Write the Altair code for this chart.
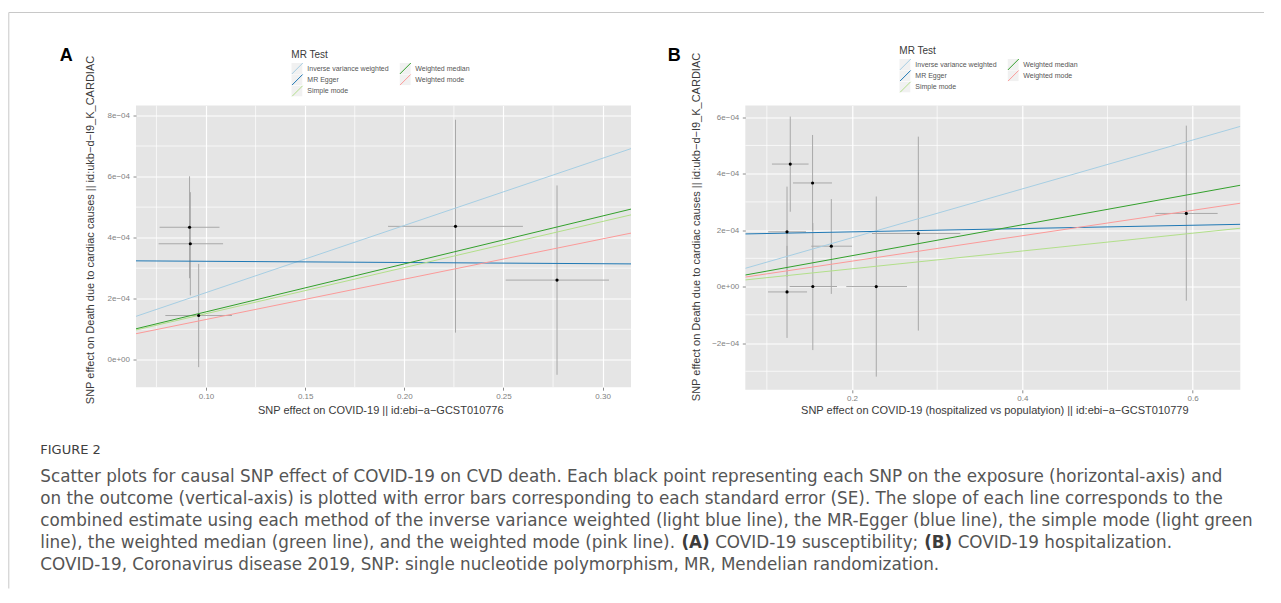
import altair as alt
import pandas as pd

# ---------------- data ----------------
METHODS = ["Inverse variance weighted", "MR Egger", "Simple mode", "Weighted median", "Weighted mode"]
METHOD_COLORS = ["#A6CEE3", "#1F78B4", "#B2DF8A", "#33A02C", "#FB9A99"]

# Panel A (COVID-19 susceptibility)
a_x = [0.0917, 0.0921, 0.0963, 0.2258, 0.2770]
a_y = [4.34e-4, 3.80e-4, 1.45e-4, 4.37e-4, 2.61e-4]
a_x_lo = [0.0766, 0.0761, 0.0795, 0.1918, 0.2511]
a_x_hi = [0.1068, 0.1086, 0.1131, 0.2598, 0.3032]
a_y_lo = [2.67e-4, 2.11e-4, -0.24e-4, 0.89e-4, -0.49e-4]
a_y_hi = [6.01e-4, 5.49e-4, 3.14e-4, 7.86e-4, 5.71e-4]
a_intercept = [0.0, 3.266e-4, 0.0, 0.0, 0.0]
a_slope = [2.20e-3, -4.0e-5, 1.51e-3, 1.57e-3, 1.32e-3]
a_xdom = [0.0647, 0.3143]
a_ydom = [-0.897e-4, 8.327e-4]
a_xticks = [0.10, 0.15, 0.20, 0.25, 0.30]
a_xtick_labels = ["0.10", "0.15", "0.20", "0.25", "0.30"]
a_xminor = [0.075, 0.125, 0.175, 0.225, 0.275]
a_yticks = [0.0, 2e-4, 4e-4, 6e-4, 8e-4]
a_ytick_labels = ["0e+00", "2e\u221204", "4e\u221204", "6e\u221204", "8e\u221204"]
a_yminor = [1e-4, 3e-4, 5e-4, 7e-4]

# Panel B (COVID-19 hospitalization)
b_x = [0.1275, 0.1537, 0.1237, 0.1757, 0.1237, 0.1540, 0.2285, 0.2779, 0.5926]
b_y = [4.34e-4, 3.67e-4, 1.94e-4, 1.43e-4, -0.19e-4, 0.002e-4, 0.0, 1.88e-4, 2.59e-4]
b_x_lo = [0.1060, 0.1307, 0.1015, 0.1522, 0.1014, 0.1267, 0.1933, 0.2235, 0.5562]
b_x_hi = [0.1490, 0.1765, 0.1460, 0.2000, 0.1472, 0.1824, 0.2646, 0.3272, 0.6294]
b_y_lo = [2.65e-4, 1.97e-4, 0.34e-4, -0.26e-4, -1.82e-4, -2.25e-4, -3.19e-4, -1.56e-4, -0.50e-4]
b_y_hi = [6.02e-4, 5.37e-4, 3.54e-4, 3.10e-4, 1.44e-4, 2.25e-4, 3.19e-4, 5.31e-4, 5.70e-4]
b_intercept = [0.0, 1.821e-4, 0.0, 0.0, 0.0]
b_slope = [8.65e-4, 5.85e-5, 3.15e-4, 5.47e-4, 4.50e-4]
b_xdom = [0.0747, 0.656]
b_ydom = [-3.657e-4, 6.414e-4]
b_xticks = [0.2, 0.4, 0.6]
b_xtick_labels = ["0.2", "0.4", "0.6"]
b_xminor = [0.1, 0.3, 0.5]
b_yticks = [-2e-4, 0.0, 2e-4, 4e-4, 6e-4]
b_ytick_labels = ["\u22122e\u221204", "0e+00", "2e\u221204", "4e\u221204", "6e\u221204"]
b_yminor = [-3e-4, -1e-4, 1e-4, 3e-4, 5e-4]

Y_TITLE = "SNP effect on Death due to cardiac causes || id:ukb\u2212d\u2212I9_K_CARDIAC"
A_X_TITLE = "SNP effect on COVID-19 || id:ebi\u2212a\u2212GCST010776"
B_X_TITLE = "SNP effect on COVID-19 (hospitalized vs populatyion) || id:ebi\u2212a\u2212GCST010779"

CAPTION_HEAD = "FIGURE 2"
CAPTION_LINES = [
    "Scatter plots for causal SNP effect of COVID-19 on CVD death. Each black point representing each SNP on the exposure (horizontal-axis) and",
    "on the outcome (vertical-axis) is plotted with error bars corresponding to each standard error (SE). The slope of each line corresponds to the",
    "combined estimate using each method of the inverse variance weighted (light blue line), the MR-Egger (blue line), the simple mode (light green",
    None,
    "COVID-19, Coronavirus disease 2019, SNP: single nucleotide polymorphism, MR, Mendelian randomization.",
]
# line 4 with bold panel letters: (text, bold, start offset in em)
CAPTION_LINE4 = [
    ("line), the weighted median (green line), and the weighted mode (pink line).", False, 0.0),
    ("(A)", True, 38.164),
    ("COVID-19 susceptibility;", False, 40.17),
    ("(B)", True, 52.609),
    ("COVID-19 hospitalization.", False, 54.603),
]

FONT = "Liberation Sans"
CAP_FONT = "DejaVu Sans"
CAP_SIZE = 16.8
CAP_LH = 22.0


def label_expr(vals, labels):
    parts = [f"abs(datum.value - ({v!r})) < 1e-12 ? '{l}'" for v, l in zip(vals, labels)]
    return " : ".join(parts) + " : ''"


def panel(x, y, xlo, xhi, ylo, yhi, icpt, slope, xdom, ydom, xticks, xlabels, xminor,
          yticks, ylabels, yminor, xtitle, w, h, xtitle_x, xtitle_y, ytitle_x, ytitle_y,
          leg_x, leg_y, extra):
    xaxis = alt.Axis(values=xticks, labelExpr=label_expr(xticks, xlabels), title=xtitle,
                     grid=True, gridColor="white", gridWidth=1.2, domain=False,
                     tickColor="#8c8c8c", tickSize=3, tickWidth=1,
                     labelColor="#7f7f7f", labelFont=FONT, labelFontSize=8, labelPadding=2,
                     titleFont=FONT, titleFontSize=11, titleFontWeight="normal", titleColor="#3a3a3a",
                     titleX=xtitle_x, titleY=xtitle_y, titleBaseline="middle", titleAlign="center")
    yaxis = alt.Axis(values=yticks, labelExpr=label_expr(yticks, ylabels), title=Y_TITLE,
                     grid=True, gridColor="white", gridWidth=1.2, domain=False,
                     tickColor="#8c8c8c", tickSize=3, tickWidth=1,
                     labelColor="#7f7f7f", labelFont=FONT, labelFontSize=8, labelPadding=3.5,
                     titleFont=FONT, titleFontSize=11, titleFontWeight="normal", titleColor="#3a3a3a",
                     titleX=ytitle_x, titleY=ytitle_y, titleBaseline="middle", titleAlign="center",
                     titleAngle=270)
    xs = alt.Scale(domain=xdom, nice=False, zero=False)
    ys = alt.Scale(domain=ydom, nice=False, zero=False)

    def X(f):
        return alt.X(f, type="quantitative", scale=xs, axis=xaxis)

    def Y(f):
        return alt.Y(f, type="quantitative", scale=ys, axis=yaxis)

    pts = pd.DataFrame({"x": x, "y": y, "xlo": xlo, "xhi": xhi, "ylo": ylo, "yhi": yhi})
    rows = []
    for m, a, b in zip(METHODS, icpt, slope):
        for xv in xdom:
            rows.append({"method": m, "x": xv, "y": a + b * xv})
    lines = pd.DataFrame(rows)

    minor_x = alt.Chart(pd.DataFrame({"x": xminor})).mark_rule(color="white", strokeWidth=0.7).encode(x=X("x"))
    minor_y = alt.Chart(pd.DataFrame({"y": yminor})).mark_rule(color="white", strokeWidth=0.7).encode(y=Y("y"))
    vbars = alt.Chart(pts).mark_rule(color="#a8a8a8", strokeWidth=1).encode(x=X("x"), y=Y("ylo"), y2="yhi")
    hbars = alt.Chart(pts).mark_rule(color="#a8a8a8", strokeWidth=1).encode(y=Y("y"), x=X("xlo"), x2="xhi")

    legend_common = dict(orient="none", legendX=leg_x, legendY=leg_y, columns=2, title="MR Test",
                         titleFont=FONT, titleFontSize=10, titleFontWeight="normal",
                         titlePadding=3, labelFont=FONT, labelFontSize=7,
                         symbolSize=121, clipHeight=11, rowPadding=0.3, labelOffset=4, padding=0)
    line_layer = alt.Chart(lines).mark_line(strokeWidth=1, clip=True).encode(
        x=X("x"), y=Y("y"),
        stroke=alt.Stroke("method:N", scale=alt.Scale(domain=METHODS, range=METHOD_COLORS),
                          legend=alt.Legend(symbolType="M-1,1L1,-1", symbolStrokeWidth=1,
                                            titleColor="#3a3a3a", labelColor="#555555",
                                            columnPadding=10, zindex=2, **legend_common)))
    key_dom = [m + " " for m in METHODS]
    keys = pd.DataFrame({"k": key_dom, "x": [xdom[0] - 10] * 5, "y": [ydom[0]] * 5})
    key_layer = alt.Chart(keys).mark_square(clip=True, size=4).encode(
        x=X("x"), y=Y("y"),
        color=alt.Color("k:N", scale=alt.Scale(domain=key_dom, range=["#ebebeb"] * 5),
                        legend=alt.Legend(symbolType="square", symbolStrokeWidth=0, labelExpr="''",
                                          titleColor="transparent", columnPadding=93.3,
                                          zindex=1, **legend_common)))
    points = alt.Chart(pts).mark_circle(color="black", size=10, opacity=1).encode(x=X("x"), y=Y("y"))

    layers = [minor_x, minor_y, vbars, hbars, line_layer, points, key_layer] + extra
    return alt.layer(*layers).properties(width=w, height=h)


def text_at(t, x, y, **kw):
    return alt.Chart(pd.DataFrame({"t": [t]})).mark_text(**kw).encode(
        text="t:N", x=alt.value(x), y=alt.value(y))


one = pd.DataFrame({"t": ["A"]})
A_X0, A_Y0 = 135.7, 105.0   # page position of panel A plot origin
cap_left = 40 - A_X0
a_extra = [
    text_at("A", -69.7, -50, font=FONT, fontSize=18, fontWeight="bold", color="black",
            align="center", baseline="middle"),
    alt.Chart(one).mark_rule(color="#c8c8c8", strokeWidth=1).encode(
        x=alt.value(-127.2), x2=alt.value(1128), y=alt.value(-93)),
    alt.Chart(one).mark_rule(color="#c8c8c8", strokeWidth=1).encode(
        x=alt.value(-127.2), y=alt.value(-93), y2=alt.value(483)),
    text_at(CAPTION_HEAD, cap_left, 449 - A_Y0, font=CAP_FONT, fontSize=13, color="#404040",
            align="left", baseline="middle"),
]
for i, line in enumerate(CAPTION_LINES):
    yc = 476 + i * CAP_LH - A_Y0
    if line is not None:
        a_extra.append(text_at(line, cap_left, yc, font=CAP_FONT, fontSize=CAP_SIZE, color="#555555",
                               align="left", baseline="middle"))
    else:
        for seg, bold, off in CAPTION_LINE4:
            a_extra.append(text_at(seg, cap_left + off * CAP_SIZE, yc, font=CAP_FONT, fontSize=CAP_SIZE,
                                   color="#3c3c3c" if bold else "#555555",
                                   fontWeight="bold" if bold else "normal",
                                   align="left", baseline="middle"))

b_extra = [
    text_at("B", -71, -50, font=FONT, fontSize=18, fontWeight="bold", color="black",
            align="center", baseline="middle"),
]

A = panel(a_x, a_y, a_x_lo, a_x_hi, a_y_lo, a_y_hi, a_intercept, a_slope, a_xdom, a_ydom,
          a_xticks, a_xtick_labels, a_xminor, a_yticks, a_ytick_labels, a_yminor, A_X_TITLE,
          495, 281.7, 244.3, 23.3, -45.7, 124, 155.3, -55.5, a_extra)
B = panel(b_x, b_y, b_x_lo, b_x_hi, b_y_lo, b_y_hi, b_intercept, b_slope, b_xdom, b_ydom,
          b_xticks, b_xtick_labels, b_xminor, b_yticks, b_ytick_labels, b_yminor, B_X_TITLE,
          495, 284.3, 249, 20.7, -49, 121, 154, -59.5, b_extra)

chart = alt.HConcatChart(hconcat=[A, B], spacing=114.3, bounds="flush",
                         padding={"left": 0, "top": 3.5, "right": 0, "bottom": 0},
                         background="white")
chart = chart.resolve_scale(color="independent", stroke="independent").resolve_legend(
    color="independent", stroke="independent")
chart = chart.configure_view(fill="#E5E5E5", stroke=None)

chart.save("out.html", embed_options={"renderer": "svg", "actions": False})
